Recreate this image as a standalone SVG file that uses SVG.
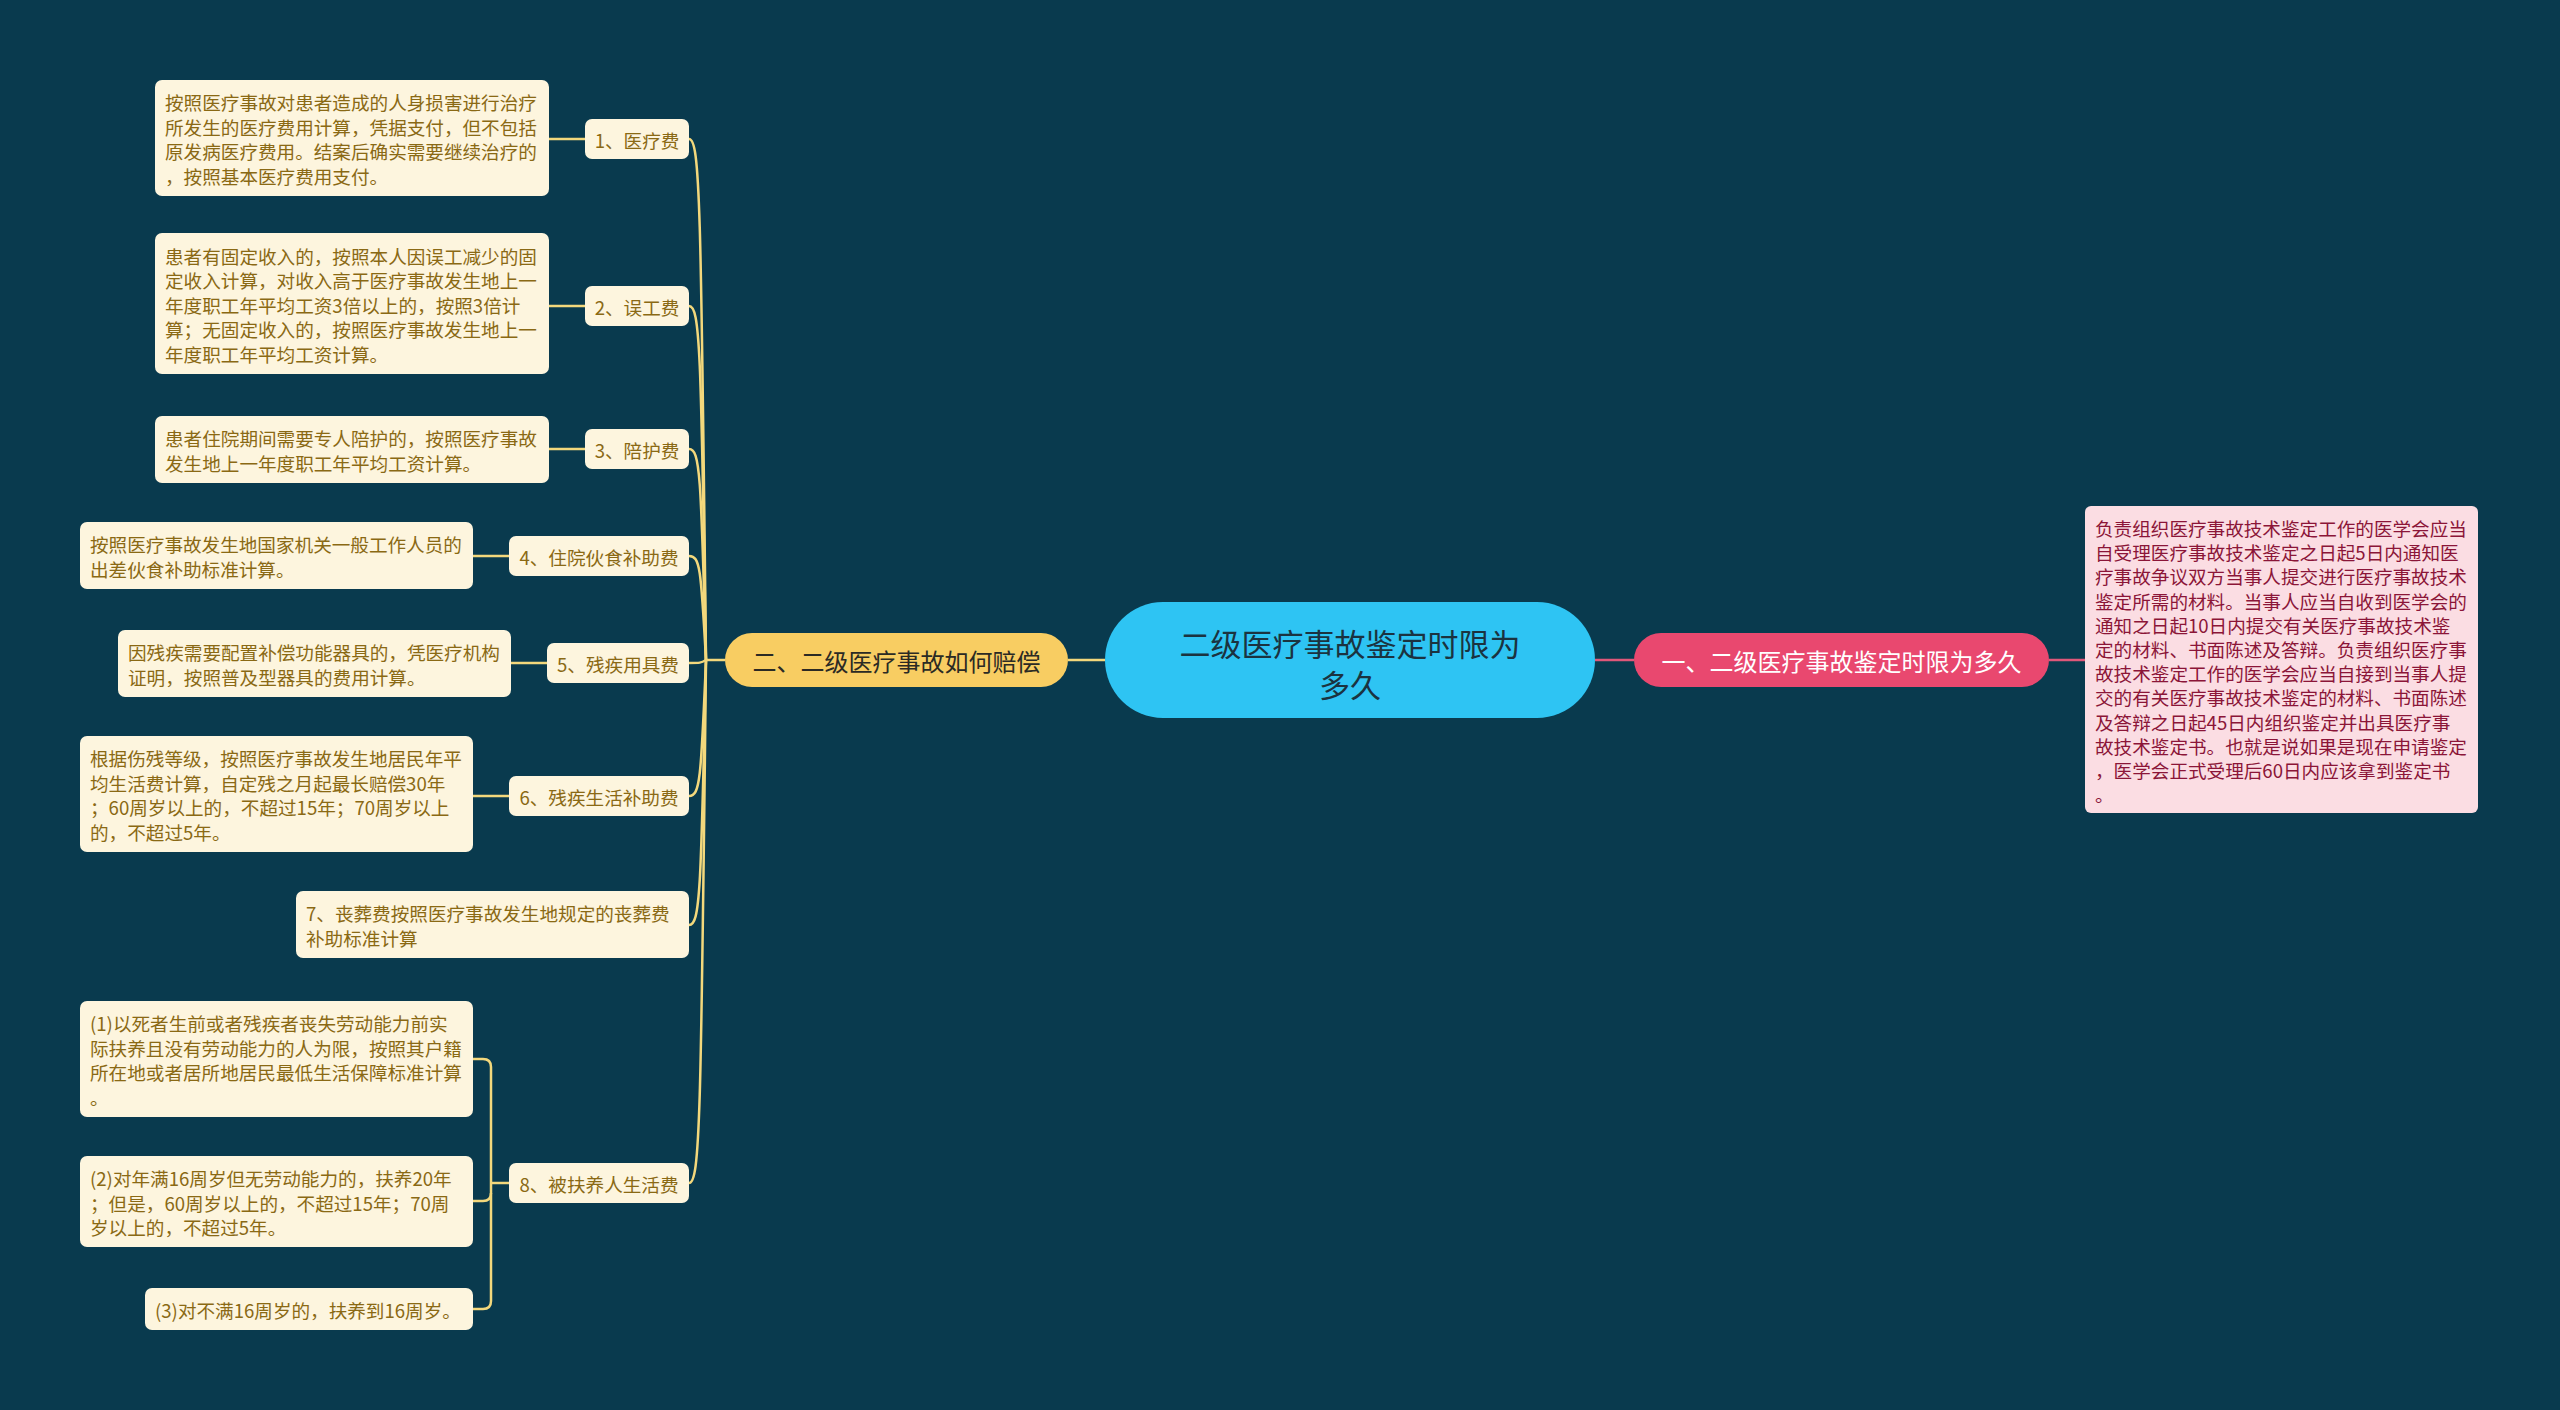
<svg xmlns="http://www.w3.org/2000/svg" width="2560" height="1410" viewBox="0 0 2560 1410">
<style>
.bg{fill:#093a4e}
.box{fill:#fdf5de}
.bt{font-family:"Noto Sans CJK SC","Noto Sans",sans-serif;font-size:18.6px;fill:#8a6914;dominant-baseline:central}
.lt{font-family:"Noto Sans CJK SC","Noto Sans",sans-serif;font-size:18.6px;fill:#8a6914;dominant-baseline:central;text-anchor:middle}
.pbox{fill:#fbdde3}
.pt{font-family:"Noto Sans CJK SC","Noto Sans",sans-serif;font-size:18.6px;fill:#8b1538;dominant-baseline:central}
.yl{fill:none;stroke:#f3d87c;stroke-width:2.5}
.pl{fill:none;stroke:#e0577a;stroke-width:2.5}
</style>
<rect class="bg" x="0" y="0" width="2560" height="1410"/>

<g id="connectors">
<path class="pl" d="M1595 660 H1634"/>
<path class="pl" d="M2049 660 H2085"/>
<path class="yl" d="M1068 660 H1105"/>
<path class="yl" d="M706 660 H725"/>
<path class="yl" d="M689 139 C700 139 701 202 706 660"/>
<path class="yl" d="M689 306 C700 306 701 348 706 660"/>
<path class="yl" d="M689 449 C700 449 701 474 706 660"/>
<path class="yl" d="M689 556 C700 556 701 568 706 660"/>
<path class="yl" d="M689 663 C700 663 701 663 706 660"/>
<path class="yl" d="M689 796 C700 796 701 780 706 660"/>
<path class="yl" d="M689 925 C700 925 701 893 706 660"/>
<path class="yl" d="M689 1183 C700 1183 701 1120 706 660"/>
<path class="yl" d="M549 139 H585"/>
<path class="yl" d="M549 306 H585"/>
<path class="yl" d="M549 449 H585"/>
<path class="yl" d="M473 556 H509"/>
<path class="yl" d="M511 663 H547"/>
<path class="yl" d="M473 796 H509"/>
<path class="yl" d="M509 1183 H491"/>
<path class="yl" d="M473 1059 H483 Q491 1059 491 1067 V1301 Q491 1309 483 1309 H473"/>
<path class="yl" d="M473 1201 H483 Q491 1201 491 1193"/>
</g>

<g id="center">
<rect x="1105" y="602" width="490" height="116" rx="58" fill="#2ec4f3"/>
<text x="1350" y="642" font-family="'Noto Sans CJK SC','Noto Sans',sans-serif" font-size="31" fill="#1b3340" text-anchor="middle" dominant-baseline="central">二级医疗事故鉴定时限为</text>
<text x="1350" y="683" font-family="'Noto Sans CJK SC','Noto Sans',sans-serif" font-size="31" fill="#1b3340" text-anchor="middle" dominant-baseline="central">多久</text>
</g>

<g id="branch-left">
<rect x="725" y="633" width="343" height="54" rx="27" fill="#f8cd62"/>
<text x="896.5" y="660" font-family="'Noto Sans CJK SC','Noto Sans',sans-serif" font-size="24" fill="#2b2a24" text-anchor="middle" dominant-baseline="central">二、二级医疗事故如何赔偿</text>
</g>

<g id="branch-right">
<rect x="1634" y="633" width="415" height="54" rx="27" fill="#e9486f"/>
<text x="1841.5" y="660" font-family="'Noto Sans CJK SC','Noto Sans',sans-serif" font-size="24" fill="#ffffff" text-anchor="middle" dominant-baseline="central">一、二级医疗事故鉴定时限为多久</text>
</g>

<g id="right-detail">
<rect class="pbox" x="2085" y="506" width="393" height="307" rx="6"/>
<text class="pt" x="2095" y="527.5">负责组织医疗事故技术鉴定工作的医学会应当</text>
<text class="pt" x="2095" y="551.7">自受理医疗事故技术鉴定之日起5日内通知医</text>
<text class="pt" x="2095" y="575.9">疗事故争议双方当事人提交进行医疗事故技术</text>
<text class="pt" x="2095" y="600.1">鉴定所需的材料。当事人应当自收到医学会的</text>
<text class="pt" x="2095" y="624.3">通知之日起10日内提交有关医疗事故技术鉴</text>
<text class="pt" x="2095" y="648.5">定的材料、书面陈述及答辩。负责组织医疗事</text>
<text class="pt" x="2095" y="672.7">故技术鉴定工作的医学会应当自接到当事人提</text>
<text class="pt" x="2095" y="696.9">交的有关医疗事故技术鉴定的材料、书面陈述</text>
<text class="pt" x="2095" y="721.1">及答辩之日起45日内组织鉴定并出具医疗事</text>
<text class="pt" x="2095" y="745.3">故技术鉴定书。也就是说如果是现在申请鉴定</text>
<text class="pt" x="2095" y="769.5">，医学会正式受理后60日内应该拿到鉴定书</text>
<text class="pt" x="2095" y="793.7">。</text>
</g>

<g id="label1">
<rect class="box" x="585" y="119" width="104" height="40" rx="7"/>
<text class="lt" x="637" y="139">1、医疗费</text>
</g>
<g id="detail1">
<rect class="box" x="155" y="80" width="394" height="116" rx="7"/>
<text class="bt" x="165" y="101.5">按照医疗事故对患者造成的人身损害进行治疗</text>
<text class="bt" x="165" y="126">所发生的医疗费用计算，凭据支付，但不包括</text>
<text class="bt" x="165" y="150.5">原发病医疗费用。结案后确实需要继续治疗的</text>
<text class="bt" x="165" y="175">，按照基本医疗费用支付。</text>
</g>

<g id="label2">
<rect class="box" x="585" y="286" width="104" height="40" rx="7"/>
<text class="lt" x="637" y="306">2、误工费</text>
</g>
<g id="detail2">
<rect class="box" x="155" y="233" width="394" height="141" rx="7"/>
<text class="bt" x="165" y="255">患者有固定收入的，按照本人因误工减少的固</text>
<text class="bt" x="165" y="279.5">定收入计算，对收入高于医疗事故发生地上一</text>
<text class="bt" x="165" y="304">年度职工年平均工资3倍以上的，按照3倍计</text>
<text class="bt" x="165" y="328.5">算；无固定收入的，按照医疗事故发生地上一</text>
<text class="bt" x="165" y="353">年度职工年平均工资计算。</text>
</g>

<g id="label3">
<rect class="box" x="585" y="429" width="104" height="40" rx="7"/>
<text class="lt" x="637" y="449">3、陪护费</text>
</g>
<g id="detail3">
<rect class="box" x="155" y="416" width="394" height="67" rx="7"/>
<text class="bt" x="165" y="437.5">患者住院期间需要专人陪护的，按照医疗事故</text>
<text class="bt" x="165" y="462">发生地上一年度职工年平均工资计算。</text>
</g>

<g id="label4">
<rect class="box" x="509" y="536" width="180" height="40" rx="7"/>
<text class="lt" x="599" y="556">4、住院伙食补助费</text>
</g>
<g id="detail4">
<rect class="box" x="80" y="522" width="393" height="67" rx="7"/>
<text class="bt" x="90" y="543.5">按照医疗事故发生地国家机关一般工作人员的</text>
<text class="bt" x="90" y="568">出差伙食补助标准计算。</text>
</g>

<g id="label5">
<rect class="box" x="547" y="643" width="142" height="40" rx="7"/>
<text class="lt" x="618" y="663">5、残疾用具费</text>
</g>
<g id="detail5">
<rect class="box" x="118" y="630" width="393" height="67" rx="7"/>
<text class="bt" x="128" y="651.5">因残疾需要配置补偿功能器具的，凭医疗机构</text>
<text class="bt" x="128" y="676">证明，按照普及型器具的费用计算。</text>
</g>

<g id="label6">
<rect class="box" x="509" y="776" width="180" height="40" rx="7"/>
<text class="lt" x="599" y="796">6、残疾生活补助费</text>
</g>
<g id="detail6">
<rect class="box" x="80" y="736" width="393" height="116" rx="7"/>
<text class="bt" x="90" y="757.5">根据伤残等级，按照医疗事故发生地居民年平</text>
<text class="bt" x="90" y="782">均生活费计算，自定残之月起最长赔偿30年</text>
<text class="bt" x="90" y="806.5">；60周岁以上的，不超过15年；70周岁以上</text>
<text class="bt" x="90" y="831">的，不超过5年。</text>
</g>

<g id="label7">
<rect class="box" x="296" y="891" width="393" height="67" rx="7"/>
<text class="bt" x="306" y="912.5">7、丧葬费按照医疗事故发生地规定的丧葬费</text>
<text class="bt" x="306" y="937">补助标准计算</text>
</g>

<g id="label8">
<rect class="box" x="509" y="1163" width="180" height="40" rx="7"/>
<text class="lt" x="599" y="1183">8、被扶养人生活费</text>
</g>
<g id="detail8-1">
<rect class="box" x="80" y="1001" width="393" height="116" rx="7"/>
<text class="bt" x="90" y="1022.5">(1)以死者生前或者残疾者丧失劳动能力前实</text>
<text class="bt" x="90" y="1047">际扶养且没有劳动能力的人为限，按照其户籍</text>
<text class="bt" x="90" y="1071.5">所在地或者居所地居民最低生活保障标准计算</text>
<text class="bt" x="90" y="1096">。</text>
</g>
<g id="detail8-2">
<rect class="box" x="80" y="1156" width="393" height="91" rx="7"/>
<text class="bt" x="90" y="1177.5">(2)对年满16周岁但无劳动能力的，扶养20年</text>
<text class="bt" x="90" y="1202">；但是，60周岁以上的，不超过15年；70周</text>
<text class="bt" x="90" y="1226.5">岁以上的，不超过5年。</text>
</g>
<g id="detail8-3">
<rect class="box" x="145" y="1288" width="328" height="42" rx="7"/>
<text class="bt" x="155" y="1309">(3)对不满16周岁的，扶养到16周岁。</text>
</g>
</svg>
